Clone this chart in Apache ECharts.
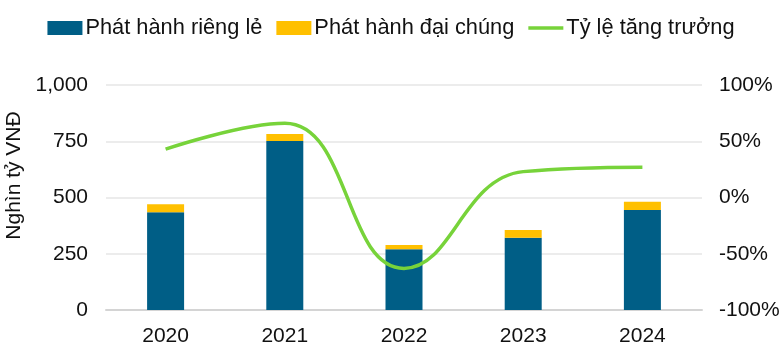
<!DOCTYPE html>
<html><head><meta charset="utf-8">
<script src="https://cdn.jsdelivr.net/npm/echarts@6/dist/echarts.min.js"></script>
<style>html,body{margin:0;padding:0;background:#fff}#c{width:782px;height:361px}</style>
</head><body><div id="c"></div>
<script>
const categories = ['2020','2021','2022','2023','2024'];
const privateIssue = [434, 751, 270, 321, 444];
const publicIssue = [36, 31, 19, 35, 37];
const growthRate = [43, 66, -63, 23, 27];
const leftTicks = [0, 250, 500, 750, 1000];
const rightTicks = [-100, -50, 0, 50, 100];

const font = 'Liberation Sans, Arial, sans-serif';
const txt = '#111';
const fs = 21;
const chart = echarts.init(document.getElementById('c'));
chart.setOption({
  animation: false,
  legend: {
    top: 12, left: 'center', itemWidth: 35, itemHeight: 14, itemGap: 14,
    textStyle: {fontFamily: font, fontSize: 21.8, color: txt, padding: [0,0,0,-2]},
    data: [
      {name: 'Phát hành riêng lẻ', icon: 'rect'},
      {name: 'Phát hành đại chúng', icon: 'rect'},
      {name: 'Tỷ lệ tăng trưởng', icon: 'path://M0,0 L40,0 L40,4 L0,4 Z', itemStyle: {color: '#77D33A'}}
    ]
  },
  grid: {left: 106, right: 80, top: 85, bottom: 51, containLabel: false, outerBoundsMode: 'none'},
  xAxis: {
    type: 'category', data: categories,
    axisLine: {lineStyle: {color: '#D4D4D4', width: 2}},
    axisTick: {show: false},
    axisLabel: {fontFamily: font, fontSize: fs, color: txt, margin: 16}
  },
  yAxis: [{
    type: 'value', min: leftTicks[0], max: leftTicks[leftTicks.length-1], interval: 250,
    name: 'Nghìn tỷ VNĐ', nameLocation: 'middle', nameGap: 78, nameRotate: 90,
    nameTextStyle: {fontFamily: font, fontSize: fs, color: txt, padding: [0,0,0,44]},
    axisLine: {show: false}, axisTick: {show: false},
    splitLine: {lineStyle: {color: '#E6E6E6', width: 1.5}},
    axisLabel: {fontFamily: font, fontSize: fs, color: txt, margin: 18,
      formatter: v => v.toLocaleString('en-US')}
  }, {
    type: 'value', min: rightTicks[0], max: rightTicks[rightTicks.length-1], interval: 50,
    axisLine: {show: false}, axisTick: {show: false}, splitLine: {show: false},
    axisLabel: {fontFamily: font, fontSize: fs, color: txt, margin: 17, formatter: v => v + '%'}
  }],
  series: [
    {name: 'Phát hành riêng lẻ', type: 'bar', stack: 's', data: privateIssue, barWidth: 37,
     itemStyle: {color: '#005E86'}},
    {name: 'Phát hành đại chúng', type: 'bar', stack: 's', data: publicIssue,
     itemStyle: {color: '#FFC000'}},
    {name: 'Tỷ lệ tăng trưởng', type: 'line', yAxisIndex: 1, data: growthRate,
     smooth: 0.45, showSymbol: false, symbol: 'none',
     lineStyle: {color: '#77D33A', width: 3.5}, itemStyle: {color: '#77D33A'}}
  ]
});
</script></body></html>
